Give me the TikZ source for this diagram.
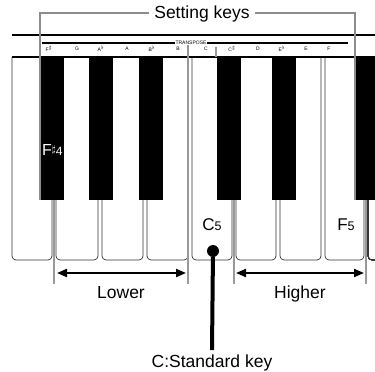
\documentclass[tikz,border=0pt]{standalone}
\usepackage{fontspec}
\setmainfont{Liberation Sans}
\usepackage{tikz}
\usetikzlibrary{arrows.meta}
\newcommand{\keytop}{57}
\newcommand{\keybot}{260}
\newcommand{\blackbot}{200}
\newcommand{\whitekey}[2]{\draw[keyline,rounded corners=4] (#1,\keytop) -- (#1,\keybot) -- (#2,\keybot) -- (#2,\keytop);}
\newcommand{\blackkey}[2]{\fill (#1,\keytop) rectangle (#2,\blackbot);}

\begin{document}
\begin{tikzpicture}[x=1pt,y=-1pt,
    keyline/.style={line width=0.7pt,black!80},
    bracket/.style={line width=1.5pt,black!45},
    guide/.style={line width=1.5pt,black!40},
    bar/.style={line width=2pt},
    twoway/.style={line width=2pt,{Triangle[length=10pt,width=8pt]}-{Triangle[length=10pt,width=8pt]}},
    big/.style={font=\fontsize{17.5}{20}\selectfont,inner sep=0pt},
    notelabel/.style={font=\fontsize{5}{6}\selectfont,inner sep=0.6pt}]
    \useasboundingbox (0,0) rectangle (375,372);

    \draw[line width=1.2pt] (12,35) -- (375,35);

    % white keys, then black keys on top
    \foreach \a/\b in {12/52,56/98,102/143,147/188,192/232,236/276,280/321,325/364}
        \whitekey{\a}{\b}
    \draw[keyline,rounded corners=4] (368,\keytop) -- (368,\keybot) -- (375,\keybot);
    \foreach \a in {40,89,139,217,272}
        \blackkey{\a}{\a+24}
    \blackkey{355}{375}
    \draw[line width=1.5pt] (12,\keytop) -- (375,\keytop);

    % panel printing
    \coordinate (barL) at (42,43);
    \coordinate (barR) at (348,43);
    \node[notelabel] (transpose) at (191,43) {TRANSPOSE};
    \draw[bar] (barL) -- (transpose.west);
    \draw[bar] (transpose.east) -- (barR);
    \foreach \x/\t [count=\i] in {49/F$^\sharp$,77/G,101/A$^\flat$,127/A,152/B$^\flat$,178/B,
                                  206/C,232/C$^\sharp$,258/D,282/E$^\flat$,306/E,329/F}
        \node[notelabel] (note\i) at (\x,49) {\t};
    \draw[guide] (216,47) -- (216,\keytop);

    % setting keys bracket
    \node[big,anchor=base,inner xsep=5pt] (setting) at (202,19) {Setting keys};
    \coordinate (brL) at (40,13);
    \coordinate (brR) at (355,13);
    \draw[bracket] (brL -| setting.west) -- (brL) -- (40,\blackbot);
    \draw[bracket] (brR -| setting.east) -- (brR) -- (355,\blackbot);

    % ranges
    \draw[guide] (188,45) -- (188,284);
    \foreach \x in {54,234,366}
        \draw[guide] (\x,\blackbot) -- (\x,284);
    \coordinate (lowerL) at (57,273);
    \coordinate (lowerR) at (186,273);
    \coordinate (higherL) at (236,273);
    \coordinate (higherR) at (364,273);
    \draw[twoway] (lowerL) -- (lowerR);
    \draw[twoway] (higherL) -- (higherR);
    \node[big,anchor=base] (lower) at (121,298) {Lower};
    \node[big,anchor=base] (higher) at (300,298) {Higher};

    % key names
    \node[anchor=base west,inner sep=0pt,text=white] (fsharp) at (42,155)
        {\fontsize{16}{18}\selectfont F{\fontsize{10}{12}\selectfont\raisebox{3pt}{$\sharp$}}{\fontsize{12}{14}\selectfont 4}};
    \node[anchor=base,inner sep=0pt] (cfive) at (212,230)
        {\fontsize{17}{20}\selectfont C{\fontsize{12.5}{14}\selectfont 5}};
    \node[anchor=base,inner sep=0pt] (ffive) at (346,230)
        {\fontsize{17}{20}\selectfont F{\fontsize{12.5}{14}\selectfont 5}};

    % standard key
    \node[circle,fill,inner sep=0pt,minimum size=12pt] (stddot) at (213,251) {};
    \node[big,anchor=base,inner ysep=4pt] (standard) at (212,367) {C:Standard key};
    \draw[line width=4pt] (stddot) -- (standard.north);
\end{tikzpicture}
\end{document}
